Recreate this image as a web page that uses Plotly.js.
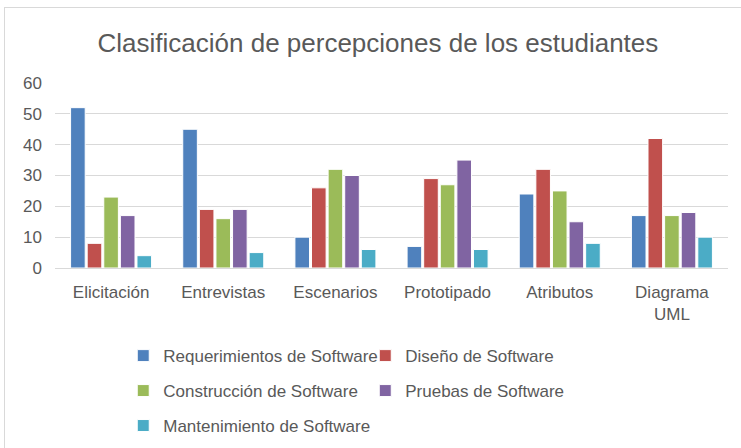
<!DOCTYPE html>
<html><head><meta charset="utf-8">
<script src="https://cdn.plot.ly/plotly-3.0.1.min.js"></script>
<style>
html,body{margin:0;padding:0;background:#fff;}
#wrap{position:relative;width:741px;height:448px;overflow:hidden;}
#chart{position:absolute;left:0;top:0;width:741px;height:448px;}
#frame{position:absolute;left:4px;top:7px;width:760px;height:460px;border:1px solid #D9D9D9;pointer-events:none;}
</style></head>
<body>
<div id="wrap"><div id="chart"></div><div id="frame"></div></div>
<script>
const categories = ["Elicitación", "Entrevistas", "Escenarios", "Prototipado", "Atributos", "Diagrama<br>UML"];
const seriesNames = ["Requerimientos de Software", "Diseño de Software", "Construcción de Software", "Pruebas de Software", "Mantenimiento de Software"];
const requerimientos = [52, 45, 10, 7, 24, 17];
const diseno = [8, 19, 26, 29, 32, 42];
const construccion = [23, 16, 32, 27, 25, 17];
const pruebas = [17, 19, 30, 35, 15, 18];
const mantenimiento = [4, 5, 6, 6, 8, 10];
const yTicks = [0, 10, 20, 30, 40, 50, 60];

const values = [requerimientos, diseno, construccion, pruebas, mantenimiento];
const colors = ["#4F81BD", "#C0504D", "#9BBB59", "#8064A2", "#4BACC6"];
const legendIds = ["legend", "legend2", "legend3", "legend4", "legend5"];
const legendPos = [[0.1014, -0.476], [0.4610, -0.476], [0.1014, -0.665], [0.4610, -0.665], [0.1014, -0.854]];
const FONT = "'Liberation Sans Narrow', 'Liberation Sans', sans-serif";

const traces = values.map((v, i) => ({
  type: "bar",
  name: seriesNames[i],
  x: categories,
  y: v,
  legend: legendIds[i],
  marker: {color: colors[i], line: {color: "#FFFFFF", width: 1}},
  hoverinfo: "skip"
}));

const layout = {
  width: 741, height: 448,
  margin: {l: 55, r: 13, t: 83, b: 180, autoexpand: false},
  paper_bgcolor: "#FFFFFF",
  plot_bgcolor: "#FFFFFF",
  font: {family: FONT, color: "#595959"},
  title: {text: "Clasificación de percepciones de los estudiantes",
          font: {family: FONT, size: 26, color: "#595959"},
          x: 0.51, xanchor: "center", y: 0.905, yanchor: "middle"},
  barmode: "group",
  bargap: 0.26,
  bargroupgap: 0.12,
  xaxis: {type: "category", showgrid: false, showline: false, ticks: "",
          ticklabelstandoff: 12,
          tickfont: {family: FONT, size: 17, color: "#595959"}, fixedrange: true},
  yaxis: {range: [0, 60], tickvals: yTicks, ticktext: yTicks.map(String),
          showgrid: true, gridcolor: "#D9D9D9", gridwidth: 1,
          zeroline: true, zerolinecolor: "#D9D9D9", zerolinewidth: 1,
          showline: false, ticks: "", ticklabelstandoff: 12,
          tickfont: {family: FONT, size: 17, color: "#595959"}, fixedrange: true},
  showlegend: true
};

legendIds.forEach((id, i) => {
  layout[id] = {
    orientation: "h", xanchor: "left", yanchor: "middle",
    x: legendPos[i][0], y: legendPos[i][1],
    font: {family: FONT, size: 17, color: "#595959"},
    bgcolor: "rgba(0,0,0,0)"
  };
});

Plotly.newPlot("chart", traces, layout, {displayModeBar: false, staticPlot: true});
</script>
</body></html>
